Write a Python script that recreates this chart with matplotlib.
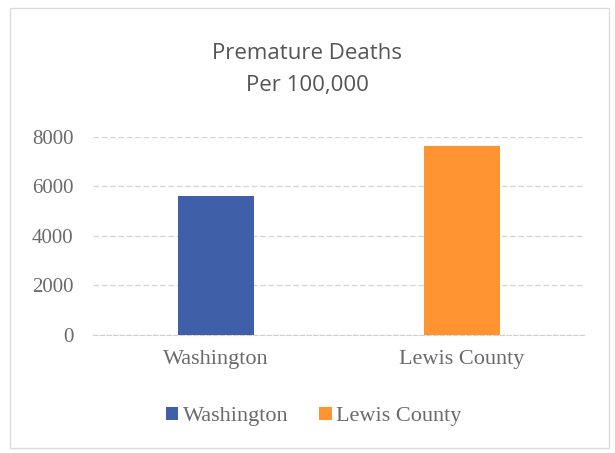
import matplotlib
matplotlib.use("Agg")
import matplotlib.pyplot as plt
from matplotlib.patches import Rectangle, Patch

categories = ["Washington", "Lewis County"]
values = [5600, 7650]
colors = ["#3f5fa8", "#ff9430"]
yticks = [0, 2000, 4000, 6000, 8000]
title = "Premature Deaths\nPer 100,000"

fig = plt.figure(figsize=(6.15, 4.53), dpi=100)
fig.patch.set_facecolor("white")
ax = fig.add_axes([0.151, 0.2605, 0.80, 0.4371])

x = range(len(categories))
ax.bar(x, values, width=0.31, color=colors, zorder=3)
ax.set_xlim(-0.5, 1.5)
ax.set_ylim(0, 8000)
ax.set_yticks(yticks)
ax.set_yticklabels([str(t) for t in yticks], family="Liberation Serif", fontsize=15, color="#6a6a6a")
ax.set_xticks(list(x))
ax.set_xticklabels(categories, family="Liberation Serif", fontsize=16, color="#6a6a6a")
ax.tick_params(axis="y", length=0, pad=14)
ax.tick_params(axis="x", length=0, pad=11)
ax.grid(axis="y", color="#d6d6d6", linestyle=(0, (4, 2)), linewidth=1, zorder=0)
for s in ["top", "right", "left"]:
    ax.spines[s].set_visible(False)
ax.spines["bottom"].set_color("#d0d0d0")
ax.spines["bottom"].set_linestyle((0, (4, 2)))

fig.text(0.5, 0.847, title, ha="center", va="center", fontsize=16, color="#555555",
         family="Open Sans", linespacing=1.65)

handles = [Patch(facecolor=c, label=l) for c, l in zip(colors, categories)]
fig.legend(handles=handles, loc="center", bbox_to_anchor=(0.51, 0.081), ncol=2, frameon=False,
           prop={"family": "Liberation Serif", "size": 16}, labelcolor="#6a6a6a",
           handlelength=0.55, handleheight=0.55, handletextpad=0.2, columnspacing=1.4)

fig.patches.append(Rectangle((0.016, 0.01), 0.975, 0.972, transform=fig.transFigure,
                             fill=False, edgecolor="#dcdcdc", linewidth=1))

fig.savefig("out.png", dpi=100, facecolor="white")
